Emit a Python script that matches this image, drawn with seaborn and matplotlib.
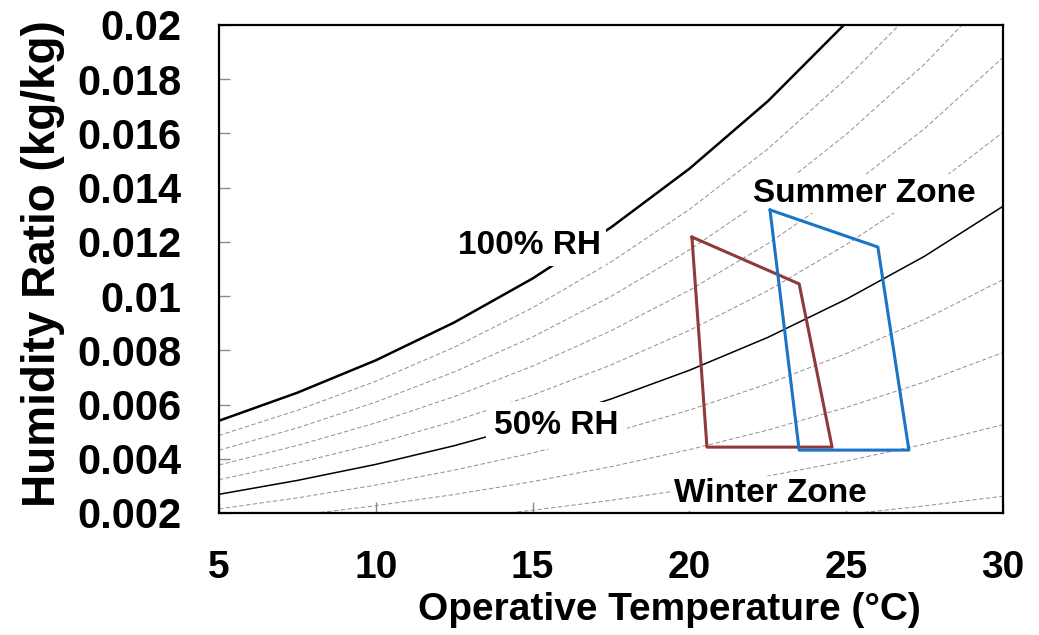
import matplotlib
matplotlib.use("Agg")
import matplotlib.pyplot as plt
import seaborn as sns

# Dry-bulb / operative temperature grid (°C)
temps = [5, 7.5, 10, 12.5, 15, 17.5, 20, 22.5, 25, 27.5, 30]

# Humidity ratio (kg/kg) along constant relative-humidity curves
rh100 = [0.005403, 0.006438, 0.007632, 0.009028, 0.010650, 0.012535, 0.014699, 0.017188, 0.020087, 0.023376, 0.027211]
rh90 = [0.004859, 0.005788, 0.006860, 0.008114, 0.009569, 0.011259, 0.013198, 0.015427, 0.018020, 0.020959, 0.024383]
rh80 = [0.004315, 0.005140, 0.006091, 0.007202, 0.008491, 0.009988, 0.011704, 0.013675, 0.015966, 0.018561, 0.021580]
rh70 = [0.003772, 0.004493, 0.005323, 0.006292, 0.007417, 0.008722, 0.010217, 0.011933, 0.013926, 0.016180, 0.018801]
rh60 = [0.003231, 0.003847, 0.004557, 0.005386, 0.006347, 0.007461, 0.008737, 0.010200, 0.011898, 0.013818, 0.016046]
rh50 = [0.002690, 0.003202, 0.003793, 0.004482, 0.005280, 0.006205, 0.007264, 0.008477, 0.009884, 0.011472, 0.013314]
rh40 = [0.002150, 0.002559, 0.003031, 0.003580, 0.004217, 0.004954, 0.005797, 0.006763, 0.007882, 0.009144, 0.010606]
rh30 = [0.001611, 0.001917, 0.002270, 0.002681, 0.003157, 0.003708, 0.004338, 0.005059, 0.005893, 0.006833, 0.007921]
rh20 = [0.001073, 0.001277, 0.001512, 0.001785, 0.002101, 0.002467, 0.002885, 0.003363, 0.003916, 0.004539, 0.005258]
rh10 = [0.000536, 0.000638, 0.000755, 0.000891, 0.001049, 0.001231, 0.001439, 0.001677, 0.001952, 0.002261, 0.002618]

# Comfort zones (vertices: temperature °C, humidity ratio kg/kg)
winter_t = [20.08, 23.5, 24.55, 20.56]
winter_w = [0.01218, 0.01045, 0.00443, 0.00443]
summer_t = [22.57, 26.01, 27.0, 23.5]
summer_w = [0.01318, 0.01181, 0.00432, 0.00432]

xticks = [5, 10, 15, 20, 25, 30]
yticks = [0.002, 0.004, 0.006, 0.008, 0.010, 0.012, 0.014, 0.016, 0.018, 0.020]
ytick_labels = ["0.002", "0.004", "0.006", "0.008", "0.01", "0.012", "0.014", "0.016", "0.018", "0.02"]

sns.set_theme(style="white")
plt.rcParams["font.family"] = ["Liberation Sans", "DejaVu Sans"]
plt.rcParams["font.weight"] = "bold"
plt.rcParams["text.color"] = "black"
plt.rcParams["axes.labelcolor"] = "black"

fig = plt.figure(figsize=(10.39, 6.35), dpi=100)
ax = fig.add_axes([219 / 1039, 1 - 513 / 635, 784 / 1039, 488 / 635])

dash_style = (0, (4.5, 2.5))
for curve in [rh90, rh80, rh70, rh60, rh40, rh30, rh20, rh10]:
    sns.lineplot(x=temps, y=curve, ax=ax, color="#8f8f8f", lw=0.7,
                 linestyle=dash_style, estimator=None, sort=False, zorder=2)
sns.lineplot(x=temps, y=rh50, ax=ax, color="black", lw=1.1,
             estimator=None, sort=False, zorder=2)
sns.lineplot(x=temps, y=rh100, ax=ax, color="black", lw=1.8,
             estimator=None, sort=False, zorder=2)

sns.lineplot(x=winter_t + winter_t[:1], y=winter_w + winter_w[:1], ax=ax,
             color="#8e3a3a", lw=2.2, estimator=None, sort=False, zorder=4)
sns.lineplot(x=summer_t + summer_t[:1], y=summer_w + summer_w[:1], ax=ax,
             color="#1a75c4", lw=2.2, estimator=None, sort=False, zorder=4)

ax.set_xlim(5, 30)
ax.set_ylim(0.002, 0.02)
ax.set_xticks(xticks)
ax.set_xticklabels([str(v) for v in xticks])
ax.set_yticks(yticks)
ax.set_yticklabels(ytick_labels)
ax.tick_params(axis="both", direction="in", length=8, width=1, color="#8a8a8a",
               labelcolor="black", pad=27, left=True, bottom=True)
ax.tick_params(axis="x", labelsize=28)
ax.tick_params(axis="y", labelsize=30)
for lab in ax.get_xticklabels() + ax.get_yticklabels():
    lab.set_fontweight("bold")
for s in ax.spines.values():
    s.set_color("black")
    s.set_linewidth(1.6)

ax.set_xlabel("Operative Temperature (°C)", fontsize=28, fontweight="bold")
ax.set_ylabel("Humidity Ratio (kg/kg)", fontsize=33, fontweight="bold")
ax.xaxis.set_label_coords(0.574, -0.162)
ax.yaxis.set_label_coords(-0.197, 0.51)

ax.text(14.89, 0.011553, "100% RH", fontsize=24, fontweight="bold",
        ha="center", va="baseline",
        bbox=dict(boxstyle="square,pad=0.15", fc="white", ec="none"), zorder=3)
ax.text(15.76, 0.004914, "50% RH", fontsize=24, fontweight="bold",
        ha="center", va="baseline",
        bbox=dict(boxstyle="square,pad=0.25", fc="white", ec="none"), zorder=3)
ax.text(25.57, 0.013471, "Summer Zone", fontsize=24, fontweight="bold",
        ha="center", va="baseline",
        bbox=dict(boxstyle="square,pad=0.12", fc="white", ec="none"), zorder=3)
ax.text(22.57, 0.002406, "Winter Zone", fontsize=24, fontweight="bold",
        ha="center", va="baseline",
        bbox=dict(boxstyle="square,pad=0.05", fc="white", ec="none"), zorder=3)

fig.savefig("out.png", dpi=100)
